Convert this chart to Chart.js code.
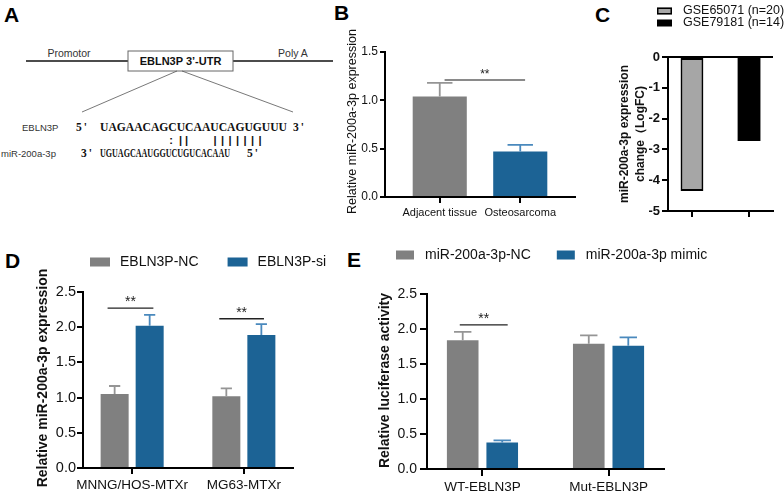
<!DOCTYPE html>
<html><head><meta charset="utf-8">
<script src="https://cdn.jsdelivr.net/npm/chart.js@4.4.1/dist/chart.umd.min.js"></script>
<style>
html,body{margin:0;padding:0;background:#fff;}
#fig{position:relative;width:784px;height:493px;overflow:hidden;background:#fff;}
#fig canvas{position:absolute;}
#fig svg{position:absolute;left:0;top:0;}
</style></head><body>
<div id="fig">
<svg width="784" height="493" xmlns="http://www.w3.org/2000/svg">
 <g font-family="Arial, 'Liberation Sans', Helvetica, sans-serif">
  <g font-size="21" font-weight="bold" fill="#000">
   <text x="4" y="22">A</text>
   <text x="334" y="20">B</text>
   <text x="595" y="22">C</text>
   <text x="5" y="268">D</text>
   <text x="347" y="267">E</text>
  </g>
  <line x1="26" y1="61" x2="128" y2="61" stroke="#111" stroke-width="1.5"/>
  <line x1="233" y1="61" x2="333" y2="61" stroke="#111" stroke-width="1.5"/>
  <rect x="128" y="51" width="105" height="20" fill="#fff" stroke="#666" stroke-width="1"/>
  <text x="180.5" y="65" text-anchor="middle" font-size="11" font-weight="bold" fill="#111">EBLN3P 3’-UTR</text>
  <text x="69" y="57" text-anchor="middle" font-size="10.5" fill="#333">Promotor</text>
  <text x="293" y="57" text-anchor="middle" font-size="10.5" fill="#333">Poly A</text>
  <line x1="177" y1="71" x2="82" y2="112" stroke="#555" stroke-width="0.8"/>
  <line x1="182" y1="71" x2="293" y2="112" stroke="#555" stroke-width="0.8"/>
  <text x="22" y="131" font-size="9.5" fill="#333">EBLN3P</text>
  <text x="1" y="157" font-size="9.5" fill="#333">miR-200a-3p</text>
  <g font-family="'Liberation Serif', 'Times New Roman', serif" font-weight="bold" font-size="11.5" fill="#111">
   <text x="76" y="131" letter-spacing="2">5'</text>
   <text x="100" y="131" textLength="187" lengthAdjust="spacingAndGlyphs">UAGAACAGCUCAAUCAGUGUUU</text>
   <text x="293" y="131" letter-spacing="2">3'</text>
   <text x="81" y="157" letter-spacing="2">3'</text>
   <text x="100" y="157" textLength="130" lengthAdjust="spacingAndGlyphs">UGUAGCAAUGGUCUGUCACAAU</text>
   <text x="247" y="157" letter-spacing="2">5'</text>
  </g>
  <g font-size="11" font-weight="bold" fill="#111" text-anchor="middle">
   <text x="171" y="144">:</text>
   <text x="180.5" y="144">|</text>
   <text x="186.5" y="144">|</text>
   <text x="215" y="144">|</text>
   <text x="222.5" y="144">|</text>
   <text x="230" y="144">|</text>
   <text x="237.5" y="144">|</text>
   <text x="245" y="144">|</text>
   <text x="252.5" y="144">|</text>
   <text x="260" y="144">|</text>
  </g>
 </g>
</svg>
<canvas id="cB" width="245" height="230" style="left:340px;top:0px"></canvas>
<canvas id="cC" width="184" height="240" style="left:600px;top:0px"></canvas>
<canvas id="cD" width="350" height="253" style="left:0px;top:240px"></canvas>
<canvas id="cE" width="434" height="253" style="left:350px;top:240px"></canvas>
</div>
<script>
// ---------- DATA ----------
// Panel B
const bCategories = ['Adjacent tissue', 'Osteosarcoma'];
const bValues = [1.04, 0.47];
const bErrors = [0.14, 0.07];
const bTicks = [0, 0.5, 1.0, 1.5];
const bSig = [{x1: 1.06, x2: 2.06, y: 1.21, text: '**'}];

// Panel C
const cSeries = ['GSE65071 (n=20)', 'GSE79181 (n=14)'];
const cValues = [-4.35, -2.73];
const cTicks = [0, -1, -2, -3, -4, -5];

// Panel D
const dCategories = ['MNNG/HOS-MTXr', 'MG63-MTXr'];
const dSeries = ['EBLN3P-NC', 'EBLN3P-si'];
const dNC = [1.05, 1.02];
const dNCErr = [0.115, 0.11];
const dSi = [2.02, 1.89];
const dSiErr = [0.155, 0.155];
const dTicks = [0, 0.5, 1.0, 1.5, 2.0, 2.5];
const dSig = [{x1: 0.78, x2: 1.19, y: 2.27, text: '**'}, {x1: 1.78, x2: 2.18, y: 2.12, text: '**'}];

// Panel E
const eCategories = ['WT-EBLN3P', 'Mut-EBLN3P'];
const eSeries = ['miR-200a-3p-NC', 'miR-200a-3p mimic'];
const eNC = [1.84, 1.79];
const eNCErr = [0.12, 0.12];
const eMimic = [0.38, 1.76];
const eMimicErr = [0.03, 0.12];
const eTicks = [0, 0.5, 1.0, 1.5, 2.0, 2.5];
const eSig = [{x1: 0.82, x2: 1.2, y: 2.06, text: '**'}];

// ---------- STYLE ----------
const FONT = 'Arial, "Liberation Sans", Helvetica, sans-serif';
const GRAY = '#808080', BLUE = '#1c6395';
const GRAY_ERR = '#959595', BLUE_ERR = '#4a89bd';
Chart.defaults.font.family = FONT;
Chart.defaults.color = '#111';

// ---------- PLUGINS ----------
const errorBarsPlugin = {
  id: 'errorBars',
  afterDatasetsDraw(chart, args, opts) {
    const ctx = chart.ctx, yS = chart.scales.y;
    chart.data.datasets.forEach((ds, i) => {
      if (!ds.errors) return;
      const meta = chart.getDatasetMeta(i);
      meta.data.forEach((bar, j) => {
        const v = meta.controller.getParsed(j).y;
        const top = yS.getPixelForValue(v + ds.errors[j]);
        const half = bar.width * opts.capRatio / 2;
        ctx.save();
        ctx.strokeStyle = Array.isArray(ds.errorColor) ? ds.errorColor[j] : ds.errorColor;
        ctx.lineWidth = opts.lineWidth;
        ctx.beginPath();
        ctx.moveTo(bar.x, bar.y); ctx.lineTo(bar.x, top);
        ctx.moveTo(bar.x - half, top); ctx.lineTo(bar.x + half, top);
        ctx.stroke();
        ctx.restore();
      });
    });
  }
};

const sigPlugin = {
  id: 'sig',
  afterDatasetsDraw(chart, args, opts) {
    if (!opts.items) return;
    const ctx = chart.ctx, xS = chart.scales.x, yS = chart.scales.y;
    opts.items.forEach(it => {
      const x1 = xS.getPixelForValue(it.x1), x2 = xS.getPixelForValue(it.x2), y = yS.getPixelForValue(it.y);
      ctx.save();
      ctx.strokeStyle = opts.color; ctx.lineWidth = opts.lineWidth;
      ctx.beginPath(); ctx.moveTo(x1, y); ctx.lineTo(x2, y); ctx.stroke();
      ctx.fillStyle = opts.textColor;
      ctx.font = opts.size + 'px ' + FONT;
      ctx.textAlign = 'center'; ctx.textBaseline = 'alphabetic';
      ctx.fillText(it.text, (x1 + x2) / 2, y - opts.gap);
      ctx.restore();
    });
  }
};

const yTitlePlugin = {
  id: 'yTitle',
  afterDraw(chart, args, opts) {
    if (!opts.lines) return;
    const ctx = chart.ctx, ca = chart.chartArea;
    const cy = (ca.top + ca.bottom) / 2 + (opts.dy || 0);
    ctx.save();
    ctx.font = (opts.weight || 'normal') + ' ' + opts.size + 'px ' + FONT;
    ctx.fillStyle = '#111';
    ctx.textAlign = 'center'; ctx.textBaseline = 'middle';
    opts.lines.forEach((line, k) => {
      ctx.save();
      ctx.translate(opts.x + k * (opts.lineGap || 0), cy);
      ctx.rotate(-Math.PI / 2);
      ctx.fillText(line, 0, 0);
      ctx.restore();
    });
    ctx.restore();
  }
};

const flowLegendPlugin = {
  id: 'flowLegend',
  afterDraw(chart, args, opts) {
    if (!opts.show) return;
    const ctx = chart.ctx;
    ctx.save();
    ctx.font = opts.size + 'px ' + FONT;
    ctx.textBaseline = 'middle'; ctx.textAlign = 'left';
    let x = opts.x, y = opts.y;
    chart.data.datasets.forEach(ds => {
      const sw = opts.boxWidth, sh = opts.boxHeight;
      ctx.fillStyle = ds.backgroundColor;
      ctx.fillRect(x, y - sh / 2, sw, sh);
      if (ds.borderWidth) {
        ctx.lineWidth = opts.boxBorder; ctx.strokeStyle = ds.borderColor;
        ctx.strokeRect(x + opts.boxBorder / 2, y - sh / 2 + opts.boxBorder / 2, sw - opts.boxBorder, sh - opts.boxBorder);
      }
      ctx.fillStyle = '#111';
      ctx.fillText(ds.label, x + sw + opts.textGap, y);
      if (opts.vertical) y += opts.rowGap;
      else x += sw + opts.textGap + ctx.measureText(ds.label).width + opts.itemGap;
    });
    ctx.restore();
  }
};

// ---------- SCALE BUILDERS ----------
function xAxis(cats, min, max, o) {
  return {
    type: 'linear', min: min, max: max, offset: false,
    afterBuildTicks: s => { s.ticks = cats.map((c, i) => ({value: i + 1})); },
    afterFit: s => { s.height = o.h; },
    ticks: {display: o.labels !== false, callback: v => cats[Math.round(v) - 1] || '',
            font: {size: o.size}, color: '#111', padding: o.pad, maxRotation: 0, autoSkip: false},
    grid: {display: true, drawOnChartArea: false, drawTicks: true, tickLength: o.tick,
           color: '#000', lineWidth: o.lw, offset: false},
    border: {display: true, color: '#000', width: o.lw}
  };
}
function yAxis(ticks, fmt, o) {
  const sorted = ticks.slice().sort((a, b) => a - b);
  return {
    type: 'linear', min: sorted[0], max: sorted[sorted.length - 1],
    afterBuildTicks: s => { s.ticks = sorted.map(v => ({value: v})); },
    afterFit: s => { s.width = o.w; },
    ticks: {callback: fmt, font: {size: o.size, weight: o.weight || 'normal'}, color: '#111', padding: o.pad},
    grid: Object.assign({display: true, drawOnChartArea: false, drawTicks: true, tickLength: o.tick,
           color: '#000', lineWidth: o.lw}, o.grid || {}),
    border: {display: true, color: '#000', width: o.lw}
  };
}
const fmt1 = v => Number(v).toFixed(1);
const fmt0 = v => String(v);
const PLUGINS = [errorBarsPlugin, sigPlugin, yTitlePlugin, flowLegendPlugin];
function base(padding) {
  return {responsive: false, animation: false, devicePixelRatio: 1,
          layout: {padding: padding}, events: []};
}

// ---------- PANEL B ----------
new Chart(document.getElementById('cB'), {
  type: 'bar',
  data: {datasets: [{
    label: 'B',
    data: bCategories.map((c, i) => ({x: i + 1, y: bValues[i]})),
    backgroundColor: [GRAY, BLUE], errors: bErrors, errorColor: [GRAY_ERR, BLUE_ERR],
    categoryPercentage: 0.84, barPercentage: 0.8
  }]},
  options: Object.assign(base({left: 0, right: 10, top: 52, bottom: 0}), {
    plugins: {legend: {display: false}, tooltip: {enabled: false},
      errorBars: {capRatio: 0.47, lineWidth: 1.8},
      sig: {items: bSig, color: '#8a8a8a', lineWidth: 2, textColor: '#222', size: 12, gap: 2},
      yTitle: {lines: ['Relative miR-200a-3p expression'], x: 13, size: 12.5, weight: 'normal', dy: -3},
      flowLegend: {show: false}},
    scales: {
      x: xAxis(bCategories, 0.32, 2.68, {h: 33, size: 11, pad: 3, tick: 6, lw: 2}),
      y: yAxis(bTicks, fmt1, {w: 45, size: 12, pad: 2, tick: 5, lw: 2})
    }
  }),
  plugins: PLUGINS
});

// ---------- PANEL C ----------
new Chart(document.getElementById('cC'), {
  type: 'bar',
  data: {datasets: cSeries.map((s, i) => ({
    label: s,
    data: [{x: i + 1, y: cValues[i]}],
    backgroundColor: i === 0 ? '#a6a6a6' : '#000',
    borderColor: '#000', borderWidth: i === 0 ? 2 : 0, borderSkipped: false,
    grouped: false, categoryPercentage: 0.5, barPercentage: 0.8
  }))},
  options: Object.assign(base({left: 0, right: 11, top: 57, bottom: 0}), {
    plugins: {legend: {display: false}, tooltip: {enabled: false},
      errorBars: {capRatio: 0.5, lineWidth: 1.8},
      sig: {},
      yTitle: {lines: ['miR-200a-3p expression', 'change（LogFC)'], x: 25, lineGap: 16, size: 12, weight: 'bold'},
      flowLegend: {show: true, vertical: true, x: 57, y: 11, boxWidth: 15, boxHeight: 7, boxBorder: 1.5,
                   textGap: 11, rowGap: 12, size: 12.5}},
    scales: {
      x: xAxis(cSeries, 0.58, 2.42, {h: 29, size: 12, pad: 3, tick: 6, lw: 2, labels: false}),
      y: yAxis(cTicks, fmt0, {w: 68, size: 13, weight: 'bold', pad: 2, tick: 6, lw: 2,
        grid: {drawOnChartArea: true, tickColor: '#000',
               color: c => (c.tick && c.tick.value === 0) ? '#000' : 'rgba(0,0,0,0)'}})
    }
  }),
  plugins: PLUGINS
});

// ---------- PANEL D ----------
new Chart(document.getElementById('cD'), {
  type: 'bar',
  data: {datasets: [
    {label: dSeries[0], data: dCategories.map((c, i) => ({x: i + 1, y: dNC[i]})),
     backgroundColor: GRAY, errors: dNCErr, errorColor: GRAY_ERR, categoryPercentage: 0.627, barPercentage: 0.8},
    {label: dSeries[1], data: dCategories.map((c, i) => ({x: i + 1, y: dSi[i]})),
     backgroundColor: BLUE, errors: dSiErr, errorColor: BLUE_ERR, categoryPercentage: 0.627, barPercentage: 0.8}
  ]},
  options: Object.assign(base({left: 0, right: 57, top: 52, bottom: 0}), {
    plugins: {legend: {display: false}, tooltip: {enabled: false},
      errorBars: {capRatio: 0.4, lineWidth: 1.8},
      sig: {items: dSig, color: '#222', lineWidth: 1.3, textColor: '#222', size: 14, gap: 2},
      yTitle: {lines: ['Relative miR-200a-3p expression'], x: 43, size: 14, weight: 'bold', dy: -2},
      flowLegend: {show: true, x: 90, y: 22, boxWidth: 20, boxHeight: 9, boxBorder: 0,
                   textGap: 10, itemGap: 29, size: 14}},
    scales: {
      x: xAxis(dCategories, 0.56, 2.44, {h: 25, size: 13.5, pad: 3, tick: 6, lw: 2}),
      y: yAxis(dTicks, fmt1, {w: 83, size: 14.5, pad: 1, tick: 6, lw: 2})
    }
  }),
  plugins: PLUGINS
});

// ---------- PANEL E ----------
new Chart(document.getElementById('cE'), {
  type: 'bar',
  data: {datasets: [
    {label: eSeries[0], data: eCategories.map((c, i) => ({x: i + 1, y: eNC[i]})),
     backgroundColor: GRAY, errors: eNCErr, errorColor: GRAY_ERR, categoryPercentage: 0.627, barPercentage: 0.8},
    {label: eSeries[1], data: eCategories.map((c, i) => ({x: i + 1, y: eMimic[i]})),
     backgroundColor: BLUE, errors: eMimicErr, errorColor: BLUE_ERR, categoryPercentage: 0.627, barPercentage: 0.8}
  ]},
  options: Object.assign(base({left: 0, right: 120, top: 54, bottom: 0}), {
    plugins: {legend: {display: false}, tooltip: {enabled: false},
      errorBars: {capRatio: 0.55, lineWidth: 1.8},
      sig: {items: eSig, color: '#222', lineWidth: 1.3, textColor: '#222', size: 14, gap: 2},
      yTitle: {lines: ['Relative luciferase activity'], x: 35, size: 14, weight: 'bold', dy: -1},
      flowLegend: {show: true, x: 46, y: 15, boxWidth: 18, boxHeight: 9, boxBorder: 0,
                   textGap: 11, itemGap: 26, size: 14}},
    scales: {
      x: xAxis(eCategories, 0.56, 2.44, {h: 24, size: 13.5, pad: 3, tick: 7, lw: 2}),
      y: yAxis(eTicks, fmt1, {w: 77, size: 14, pad: 3, tick: 7, lw: 2})
    }
  }),
  plugins: PLUGINS
});
</script>
</body></html>
